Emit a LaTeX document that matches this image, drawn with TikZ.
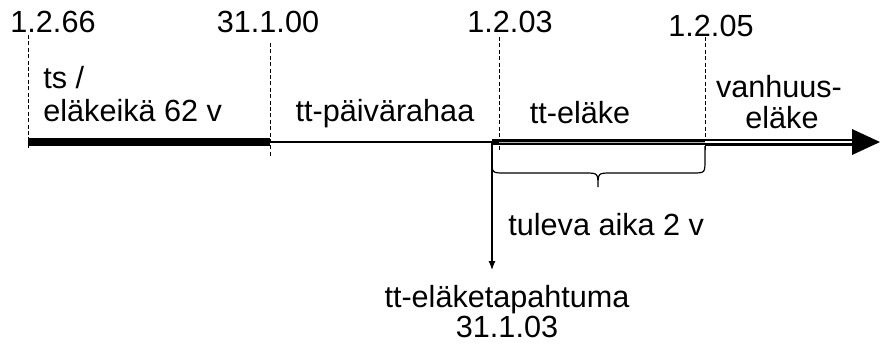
\documentclass[tikz,border=0pt]{standalone}
\usepackage{fontspec}
\setmainfont{Liberation Sans}
\usetikzlibrary{arrows.meta}

\begin{document}
\begin{tikzpicture}[x=0.5pt, y=-0.5pt,
  every node/.style={inner sep=0pt, font=\fontsize{15.3}{18}\selectfont},
  datemark/.style={line width=0.4pt, dash pattern=on 2pt off 1.2pt}]
\useasboundingbox (0,0) rectangle (880,345);
% points on the time axis
\coordinate (A66) at (28,142);
\coordinate (A00) at (270,142);
\coordinate (A03) at (499,142);
\coordinate (A05) at (705,142);
\coordinate (Ev) at (492,142);
\coordinate (ArrB) at (852,142);
\coordinate (ArrT) at (880,142);
% dates
\node[anchor=base] (D66) at (53,32) {1.2.66};
\node[anchor=base] (D00) at (268,32) {31.1.00};
\node[anchor=base] (D03) at (510,32) {1.2.03};
\node[anchor=base] (D05) at (711,36) {1.2.05};
\draw[datemark] (28,35) -- (28,150);
\draw[datemark] (270,43) -- (270,158);
\draw[datemark] (499,37) -- (499,150);
\draw[datemark] (705,37) -- (705,152);
% periods
\node[anchor=base west] (TS1) at (43,88) {ts /};
\node[anchor=base west] (TS2) at (43,121) {eläkeikä 62 v};
\node[anchor=base] (PR) at (385,121) {tt-päivärahaa};
\node[anchor=base] (TE) at (580,123) {tt-eläke};
\node[anchor=base] (VH1) at (779,97) {vanhuus-};
\node[anchor=base] (VH2) at (782,128) {eläke};
% axis
\draw[line width=4pt] (A66) -- (A00);
\draw[line width=0.6pt] (A00) -- (Ev);
\draw[line width=3.4pt] (Ev) -- (A05);
\draw[line width=0.3pt, gray!60] (A03) -- (A05);
\draw[line width=1.2pt, double, double distance=1.1pt] (A05) -- (ArrB);
\fill (852,129) -- (ArrT) -- (852,155) -- cycle;
% brace
\coordinate (BrL) at (492,146);
\coordinate (BrR) at (705,146);
\coordinate (BrT) at (598,187);
\draw[line width=0.6pt] (BrL) -- (492,160) .. controls (492,173) .. (505,173) -- (585,173)
  .. controls (598,173) .. (BrT) .. controls (598,173) .. (611,173) -- (692,173)
  .. controls (705,173) .. (705,160) -- (BrR);
\node[anchor=base west] (TA) at (508,235) {tuleva aika 2 v};
% event
\coordinate (EvEnd) at (492,270);
\draw[line width=0.6pt, -{Latex[length=4.5pt, width=3.5pt]}] (Ev) -- (EvEnd);
\node[anchor=base] (EV1) at (507,307) {tt-eläketapahtuma};
\node[anchor=base] (EV2) at (507,337) {31.1.03};
\end{tikzpicture}
\end{document}
